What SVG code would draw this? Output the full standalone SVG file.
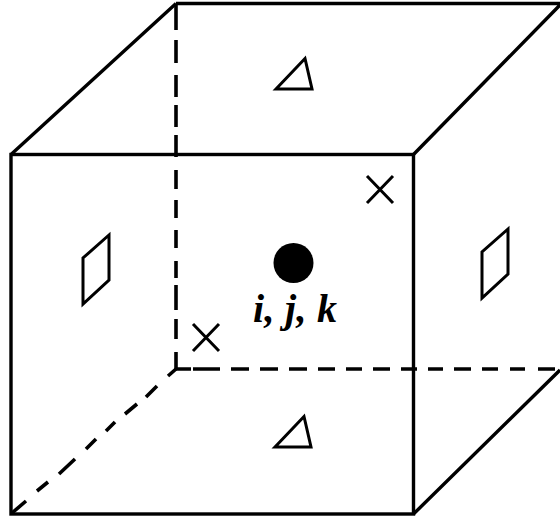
<svg xmlns="http://www.w3.org/2000/svg" width="560" height="517" viewBox="0 0 560 517">
<style>
.l{fill:none;stroke:#000;stroke-width:3.4;stroke-linejoin:miter}
.t{fill:none;stroke:#000;stroke-width:3}
.d{fill:none;stroke:#000;stroke-width:3.6}
text{font-family:"Liberation Serif","Times New Roman",serif;font-weight:bold;font-style:italic;font-size:40px;fill:#000;letter-spacing:.3px}
</style>
<rect width="560" height="517" fill="#fff"/>
<g id="connectors">
<path class="d" d="M176 5V30M176 40V63M176 75V97M176 105V127M176 135V157M176 170V189M176 200V218M176 230V248M176 261V278M176 285V310M176 319V339M176 352V369"/>
<path class="d" d="M176 369H191M193 369H220M231 369H249M260 369H278M289 369H307M318 369H335M346 369H362M373 369H390M401 369H417M428 369H443M454 369H471M482 369H498M510 369H525M538 369H555"/>
<path class="d" d="M168 376L176 369M146 397L157 386M125 414L137 404M106 431L115 422M86 449L96 439M59 474L75 459M37 491L48 482M12 513L26 501"/>
<path class="l" d="M176 3.500H560M11 154.500L176 3.500M413.500 154.500L560 5M413.500 514L560 370"/>
</g>
<g id="front-face"><rect class="l" x="11" y="154.500" width="402.500" height="359.500"/></g>
<g id="top-mark"><path class="t" d="M276 89L305 58.500L312 89Z"/></g>
<g id="bottom-mark"><path class="t" d="M275 447L304 416.500L311 447Z"/></g>
<g id="left-mark"><path class="t" d="M83 304V258L109 235V280Z"/></g>
<g id="right-mark"><path class="t" d="M482 298V252L508 229V274Z"/></g>
<g id="cross-front"><path class="t" d="M367 176L393 203M393 176L367 203"/></g>
<g id="cross-back"><path class="t" d="M193 324L219 351M219 324L193 351"/></g>
<g id="cell-centre"><circle cx="293.500" cy="263" r="20" fill="#000"/><text x="253" y="322">i, j, k</text></g>
</svg>
